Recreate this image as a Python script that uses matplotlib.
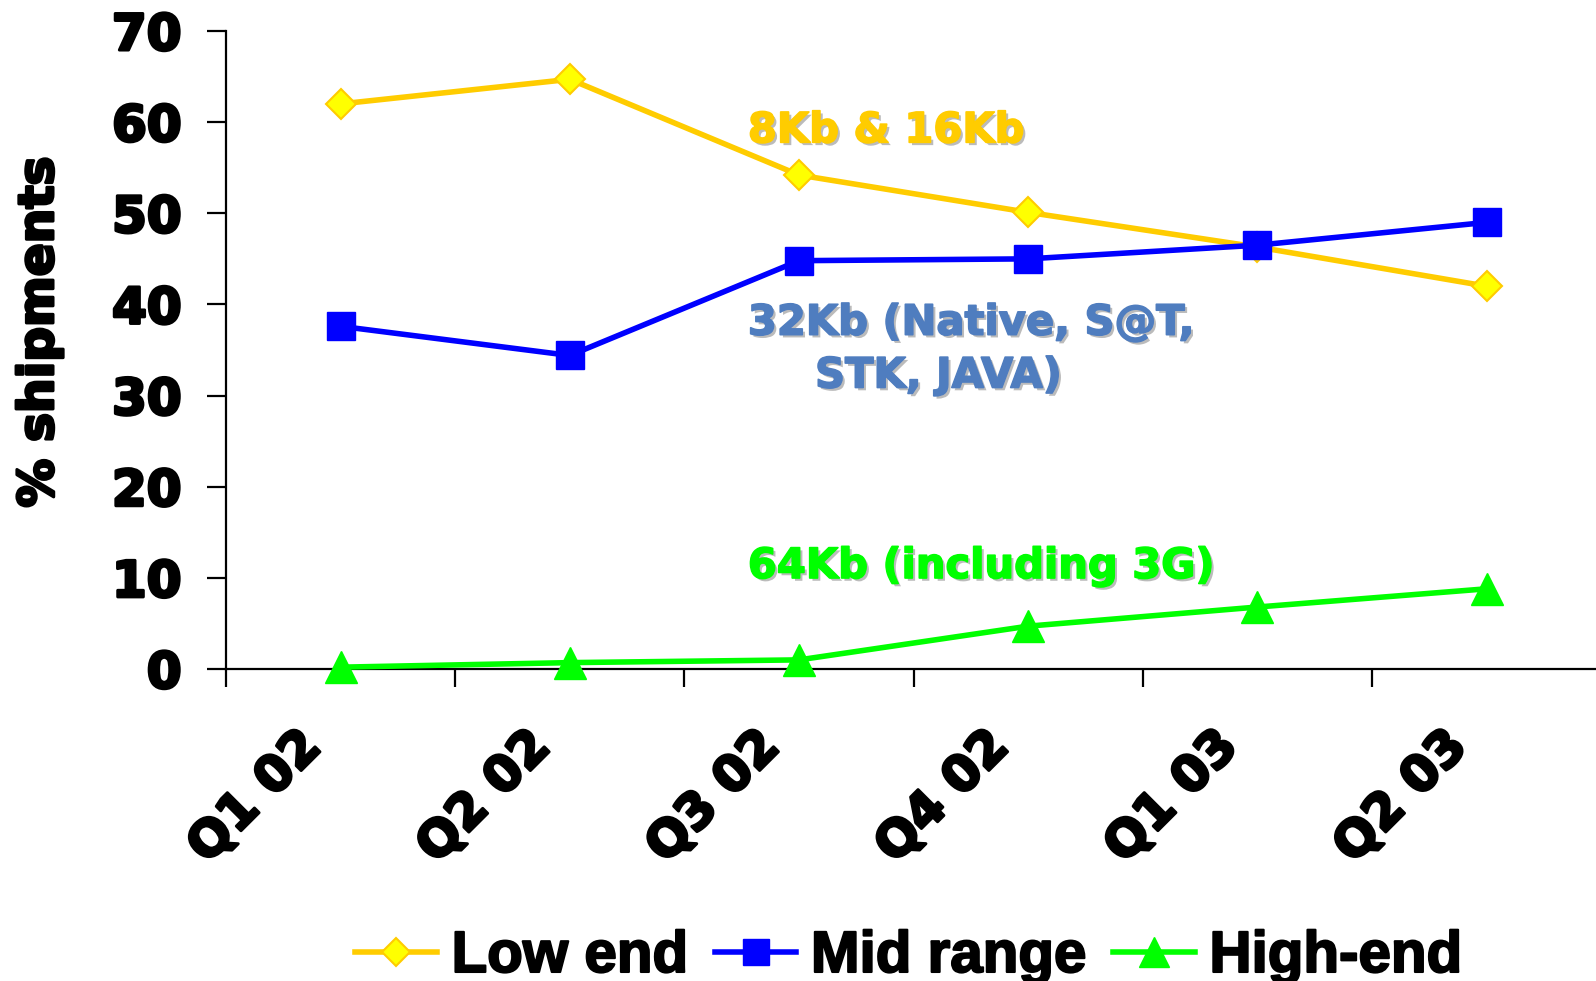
import matplotlib
matplotlib.use("Agg")
import matplotlib.pyplot as plt
from matplotlib import patheffects

quarters = ["Q1 02", "Q2 02", "Q3 02", "Q4 02", "Q1 03", "Q2 03"]
low_end = [62.0, 64.7, 54.2, 50.1, 46.3, 42.0]
mid_range = [37.6, 34.4, 44.8, 45.0, 46.5, 49.0]
high_end = [0.2, 0.7, 1.0, 4.7, 6.8, 8.8]

plt.rcParams['font.family'] = ['DejaVu Sans']
plt.rcParams['font.weight'] = 'bold'

W, H = 1596, 981
fig = plt.figure(figsize=(W / 100, H / 100), dpi=100)

# axes box in pixels: y-axis at x=226, zero line at y=669, top (70) at y=31
left, bottom, top = 226, 669, 31
cat_w = 229.2
ax = fig.add_axes([left / W, (H - bottom) / H, 6 * cat_w / W, (bottom - top) / H])

x = list(range(len(quarters)))
ax.plot(x, low_end, color='#FFCC00', lw=4.0, marker='D', ms=15,
        mfc='#FFFF00', mec='#FFCC00', mew=1.5, label='Low end', zorder=3, clip_on=False)
ax.plot(x, mid_range, color='#0000FF', lw=4.0, marker='s', ms=20,
        mfc='#0000FF', mec='#0000FF', label='Mid range', zorder=3, clip_on=False)
ax.plot(x, high_end, color='#00FF00', lw=4.0, marker='^', ms=23,
        mfc='#00FF00', mec='#00FF00', label='High-end', zorder=3, clip_on=False)

# heavier strokes so the bold face reads like the original black weight
heavy = [patheffects.withStroke(linewidth=2.2, foreground='black')]

ax.set_xlim(-0.5, 5.5)
ax.set_ylim(0, 70)
ax.set_yticks(range(0, 71, 10))
for s in ('top', 'right'):
    ax.spines[s].set_visible(False)
for s in ('left', 'bottom'):
    ax.spines[s].set_linewidth(1.6)
ax.tick_params(axis='y', length=14, width=1.6, labelsize=36, pad=18)
for lbl in ax.get_yticklabels():
    lbl.set_path_effects(heavy)

# category boundaries carry the ticks, labels sit under the category centres
ax.set_xticks([i - 0.5 for i in range(len(quarters) + 1)])
ax.set_xticklabels([])
ax.tick_params(axis='x', length=13, width=1.6)
for i, q in enumerate(quarters):
    ax.annotate(q, xy=(i, 0), xytext=(-32, -38), textcoords='offset points',
                rotation=45, rotation_mode='anchor', ha='right', va='top',
                fontsize=36, fontweight='bold', annotation_clip=False,
                path_effects=heavy)

fig.text(39 / W, 1 - 332 / H, '% shipments', rotation=90, ha='center', va='center',
         fontsize=35, fontweight='bold', path_effects=heavy)


def shaded(color):
    return [patheffects.withSimplePatchShadow(offset=(2, -2), shadow_rgbFace='#BBBBBB', alpha=1.0),
            patheffects.withStroke(linewidth=1.2, foreground=color)]


ax.text(1.777, 59.1, '8Kb & 16Kb', color='#FFCC00', fontsize=30, fontweight='bold',
        ha='left', va='center', path_effects=shaded('#FFCC00'))
ax.text(1.777, 38.0, '32Kb (Native, S@T,', color='#4F7DBF', fontsize=30,
        fontweight='bold', ha='left', va='center', path_effects=shaded('#4F7DBF'))
ax.text(2.07, 32.2, 'STK, JAVA)', color='#4F7DBF', fontsize=30,
        fontweight='bold', ha='left', va='center', path_effects=shaded('#4F7DBF'))
ax.text(1.777, 11.3, '64Kb (including 3G)', color='#00FF00', fontsize=30, fontweight='bold',
        ha='left', va='center', path_effects=shaded('#00FF00'))

leg = fig.legend(loc='center', bbox_to_anchor=(909 / W, 1 - 957 / H), ncol=3, frameon=False,
                 prop={'family': 'Liberation Sans', 'weight': 'bold', 'size': 42},
                 handlelength=1.4, handletextpad=0.25, columnspacing=0.45, borderpad=0,
                 markerscale=0.95)
for t in leg.get_texts():
    t.set_path_effects([patheffects.withStroke(linewidth=1.5, foreground='black')])

fig.savefig('out.png', dpi=100)
